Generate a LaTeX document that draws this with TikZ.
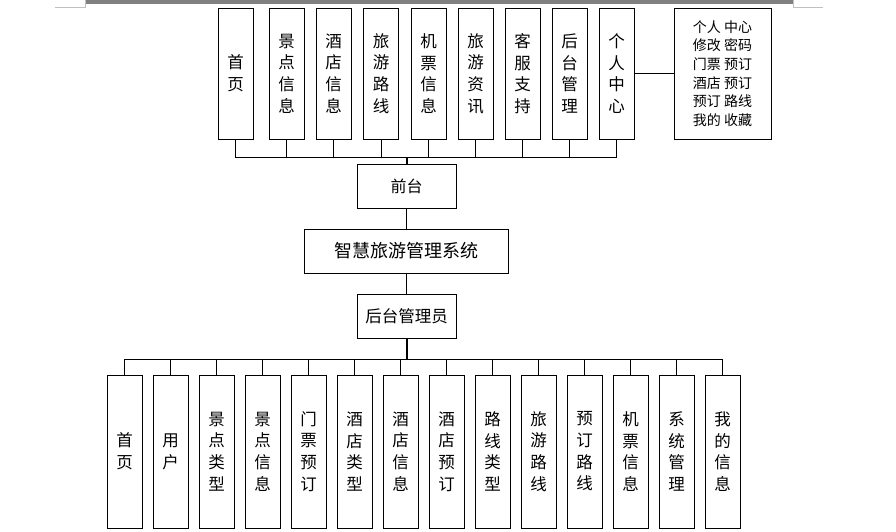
\documentclass[tikz,border=0pt]{standalone}
\usepackage{fontspec}
\newfontfamily\cjk{Noto Sans CJK SC}
\definecolor{bargray}{HTML}{808080}
\definecolor{markgray}{HTML}{C0C0C0}

\tikzset{
  vbox/.style={draw,line width=1pt,inner sep=0pt,minimum width=35pt,align=center,
    font={\cjk\fontsize{16.5}{21.7}\selectfont}},
  hbox/.style={draw,line width=1pt,inner sep=0pt,minimum width=99pt,minimum height=44pt},
  link/.style={line width=1pt},
  trunk/.style={line width=2pt}
}

\begin{document}
\begin{tikzpicture}[x=1pt,y=-1pt]
        \useasboundingbox (0,0) rectangle (896,531);
        % page edge
        \fill[bargray] (85,0) rectangle (793,4);
        \draw[markgray] (55,7) -- (85,7) -- (85,0);
        \draw[markgray] (793,0) -- (793,7) -- (823,7);

        % front side menu
        \foreach \i/\x/\lbl in {1/235.5/{首\\页},2/286.5/{景\\点\\信\\息},3/333.5/{酒\\店\\信\\息},
            4/381/{旅\\游\\路\\线},5/428.5/{机\\票\\信\\息},6/475.5/{旅\\游\\资\\讯},
            7/522.5/{客\\服\\支\\持},8/569.5/{后\\台\\管\\理},9/616.5/{个\\人\\中\\心}} {
          \node[vbox,minimum height=131pt] (top\i) at (\x,73.5) {\lbl};
        }
        \node[draw,line width=1pt,minimum width=97pt,minimum height=131pt,inner sep=0pt,align=center,
          font={\cjk\fontsize{14}{18.6}\selectfont}] (usercenter) at (722.5,73.5)
          {个人 中心\\修改 密码\\门票 预订\\酒店 预订\\预订 路线\\我的 收藏};
        \draw[link] (top9.east) -- (usercenter.west);

        % middle column
        \node[hbox,font={\cjk\fontsize{16}{18}\selectfont}] (front) at (406.5,186) {前台};
        \node[hbox,minimum width=204pt,font={\cjk\fontsize{18}{20}\selectfont}] (system) at (406.5,251) {智慧旅游管理系统};
        \node[hbox,font={\cjk\fontsize{16.5}{18}\selectfont}] (admin) at (406.5,316) {后台管理员};

        \coordinate (frontbus) at (406.5,157);
        \coordinate (adminbus) at (406.5,359);
        \foreach \i in {1,...,9} {
          \draw[link] (top\i.south) |- (frontbus);
        }
        \draw[trunk] (frontbus) -- (front.north);
        \draw[link] (front.south) -- (system.north);
        \draw[link] (system.south) -- (admin.north);
        \draw[trunk] (admin.south) -- (adminbus);

        % admin menu
        \foreach \i/\lbl in {0/{首\\页},1/{用\\户},2/{景\\点\\类\\型},3/{景\\点\\信\\息},
            4/{门\\票\\预\\订},5/{酒\\店\\类\\型},6/{酒\\店\\信\\息},7/{酒\\店\\预\\订},
            8/{路\\线\\类\\型},9/{旅\\游\\路\\线},10/{预\\订\\路\\线},11/{机\\票\\信\\息},
            12/{系\\统\\管\\理},13/{我\\的\\信\\息}} {
          \node[vbox,minimum height=153pt] (bot\i) at (124.5+46*\i,451.5) {\lbl};
          \draw[link] (bot\i.north) |- (adminbus);
        }
      \end{tikzpicture}
\end{document}
